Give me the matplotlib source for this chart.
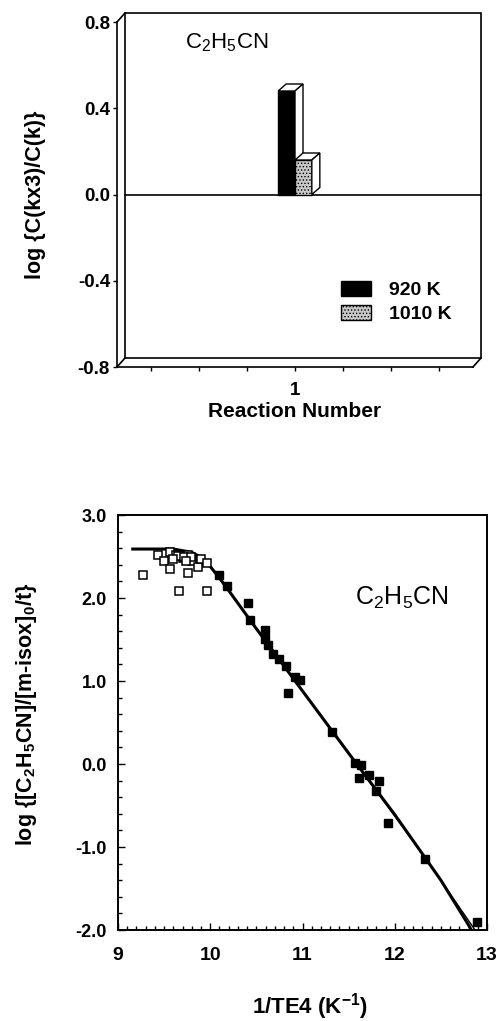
import matplotlib
matplotlib.use('Agg')
import matplotlib.pyplot as plt
import matplotlib.transforms as mtrans
from matplotlib.patches import Polygon, Patch, Rectangle
from matplotlib.lines import Line2D
from matplotlib.ticker import MultipleLocator

plt.rcParams['font.family'] = ['Liberation Sans', 'DejaVu Sans']
plt.rcParams['font.weight'] = 'bold'
plt.rcParams['axes.labelweight'] = 'bold'
plt.rcParams['mathtext.default'] = 'regular'
plt.rcParams['axes.unicode_minus'] = False
plt.rcParams['hatch.color'] = '#555555'
plt.rcParams['hatch.linewidth'] = 0.6

# --- top chart: log ratio per reaction ---
reaction_ticks = [-2, -1, 0, 1, 2, 3, 4]
reaction_labels = ['', '', '', '1', '', '', '']
temps = ['920 K', '1010 K']
log_ratio = [0.48, 0.16]
bar_colors = ['black', '#c8c8c8']
bar_hatch = [None, '.....']

# --- bottom chart: Arrhenius-type plot ---
open_x = [9.27, 9.43, 9.50, 9.56, 9.56, 9.63, 9.66, 9.70, 9.76, 9.76, 9.80,
          9.87, 9.90, 9.96, 9.97, 9.65, 9.72, 9.79, 9.60, 9.74]
open_y = [2.28, 2.52, 2.45, 2.56, 2.35, 2.52, 2.09, 2.48, 2.52, 2.30, 2.44,
          2.37, 2.47, 2.42, 2.09, 2.51, 2.50, 2.49, 2.47, 2.45]
filled_x = [10.09, 10.18, 10.41, 10.43, 10.59, 10.59, 10.63, 10.68, 10.75,
            10.82, 10.92, 10.97, 10.84, 11.32, 11.57, 11.63, 11.61, 11.72,
            11.83, 11.80, 11.93, 12.33, 12.89]
filled_y = [2.28, 2.14, 1.94, 1.73, 1.61, 1.51, 1.43, 1.33, 1.27,
            1.18, 1.05, 1.01, 0.86, 0.38, 0.01, -0.01, -0.17, -0.13,
            -0.21, -0.32, -0.71, -1.14, -1.90]
fit_x = [9.16, 9.6, 9.8, 9.9, 10.0, 10.1, 10.2, 10.5, 11.0, 11.5, 12.0,
         12.26, 12.5, 12.80, 12.83]
fit_y = [2.59, 2.59, 2.55, 2.49, 2.38, 2.24, 2.09, 1.63, 0.88, 0.13, -0.61,
         -1.02, -1.40, -1.94, -2.0]
fit2_x = [10.5, 11.5, 12.3, 12.87]
fit2_y = [1.63, 0.13, -1.08, -2.0]

W, H = 500, 1021
fig = plt.figure(figsize=(W / 100, H / 100), dpi=100)


def px_rect(l, t, r, b):
    return [l / W, 1 - b / H, (r - l) / W, (b - t) / H]


# ================= top chart =================
ax = fig.add_axes(px_rect(117, 22, 473, 367))
ax.set_xlim(-2.7, 4.7)
ax.set_ylim(-0.8, 0.8)
ax.patch.set_visible(False)
for s in ['top', 'right']:
    ax.spines[s].set_visible(False)
for s in ['left', 'bottom']:
    ax.spines[s].set_linewidth(1.2)
ax.set_yticks([-0.8, -0.4, 0.0, 0.4, 0.8])
ax.set_yticklabels(['%.1f' % v for v in [-0.8, -0.4, 0.0, 0.4, 0.8]])
ax.set_xticks(reaction_ticks)
ax.set_xticklabels(reaction_labels)
ax.tick_params(axis='y', direction='out', length=3, width=1, pad=2, labelsize=13.5)
ax.tick_params(axis='x', direction='out', length=3, width=1, pad=8, labelsize=13.5)

# 3D back plane and floor
dx, dy = 8, 9
shift = mtrans.ScaledTranslation(dx / 100, dy / 100, fig.dpi_scale_trans)
ax.add_patch(Rectangle((0, 0), 1, 1, transform=ax.transAxes + shift, fill=False,
                       lw=1.2, ec='black', clip_on=False))
pos = ax.get_position()
for cx, cy in [(0, 1), (0, 0), (1, 0)]:
    fx = pos.x0 + cx * pos.width
    fy = pos.y0 + cy * pos.height
    fig.add_artist(Line2D([fx, fx + dx / W], [fy, fy + dy / H], color='black',
                          lw=1.2, transform=fig.transFigure))

# zero line across the back plane
zshift = mtrans.ScaledTranslation(dx / 100, 0, fig.dpi_scale_trans)
ax.plot([0, 1], [0, 0], color='black', lw=1.2,
        transform=ax.get_yaxis_transform() + zshift, clip_on=False)

# bars with 3D faces
w = 0.35
bx = [1 - w / 2, 1 + w / 2]
p0 = ax.transData.transform((0, 0))
ddx, ddy = ax.transData.inverted().transform(p0 + [8, 7])
for i, (x, h) in enumerate(zip(bx, log_ratio)):
    z = 3 + i
    ax.bar(x, h, width=w, color=bar_colors[i], edgecolor='black', lw=1,
           hatch=bar_hatch[i], zorder=z)
    x0, x1 = x - w / 2, x + w / 2
    ax.add_patch(Polygon([(x0, h), (x1, h), (x1 + ddx, h + ddy), (x0 + ddx, h + ddy)],
                         fc='white', ec='black', lw=1, zorder=z))
    ax.add_patch(Polygon([(x1, 0), (x1, h), (x1 + ddx, h + ddy), (x1 + ddx, ddy)],
                         fc='white', ec='black', lw=1, zorder=z))

handles = [Patch(facecolor=bar_colors[i], edgecolor='black', hatch=bar_hatch[i],
                 label=temps[i]) for i in range(2)]
ax.legend(handles=handles, loc='upper left', bbox_to_anchor=(0.58, 0.30),
          frameon=False, fontsize=14, handlelength=1.55, handleheight=0.8,
          handletextpad=0.9, labelspacing=0.3)

ax.text(0.19, 0.94, 'C$_2$H$_5$CN', transform=ax.transAxes, fontsize=16,
        ha='left', va='center', fontweight='normal')
ax.set_ylabel('log {C(kx3)/C(k)}', fontsize=15.5)
ax.yaxis.set_label_coords(-0.2, 0.5)
ax.set_xlabel('Reaction Number', fontsize=15)
ax.xaxis.set_label_coords(0.5, -0.1)
ax.xaxis.label.set_va('top')

# ================= bottom chart =================
ax2 = fig.add_axes(px_rect(118, 515, 487, 930))
ax2.set_xlim(9, 13)
ax2.set_ylim(-2, 3)
for s in ax2.spines.values():
    s.set_linewidth(1.4)
ax2.xaxis.set_major_locator(MultipleLocator(1))
ax2.xaxis.set_minor_locator(MultipleLocator(0.1))
ax2.yaxis.set_major_locator(MultipleLocator(1))
ax2.yaxis.set_minor_locator(MultipleLocator(0.2))
ax2.set_yticks([-2, -1, 0, 1, 2, 3])
ax2.set_yticklabels(['%.1f' % v for v in [-2, -1, 0, 1, 2, 3]])
ax2.tick_params(axis='both', which='major', direction='in', length=5, width=1)
ax2.tick_params(axis='both', which='minor', direction='in', length=3, width=1)
ax2.tick_params(axis='x', which='major', pad=12, labelsize=14)
ax2.tick_params(axis='y', which='major', pad=8, labelsize=13)

ax2.plot(fit_x, fit_y, color='black', lw=2.2)
ax2.plot(fit2_x, fit2_y, color='black', lw=1)
ax2.plot(open_x, open_y, 's', mfc='white', mec='black', ms=5.5, mew=1.1)
ax2.plot(filled_x, filled_y, 's', color='black', ms=5.5, clip_on=False)

ax2.text(0.642, 0.80, 'C$_2$H$_5$CN', transform=ax2.transAxes, fontsize=18,
         ha='left', va='center', fontweight='normal')
ax2.set_ylabel('log {[C$_2$H$_5$CN]/[m-isox]$_0$/t}', fontsize=15.5)
ax2.yaxis.set_label_coords(-0.215, 0.52)
ax2.set_xlabel('1/TE4 (K$^{-1}$)', fontsize=16)
ax2.xaxis.set_label_coords(0.52, -0.2)
ax2.xaxis.label.set_va('baseline')

fig.savefig('out.png', dpi=100)
